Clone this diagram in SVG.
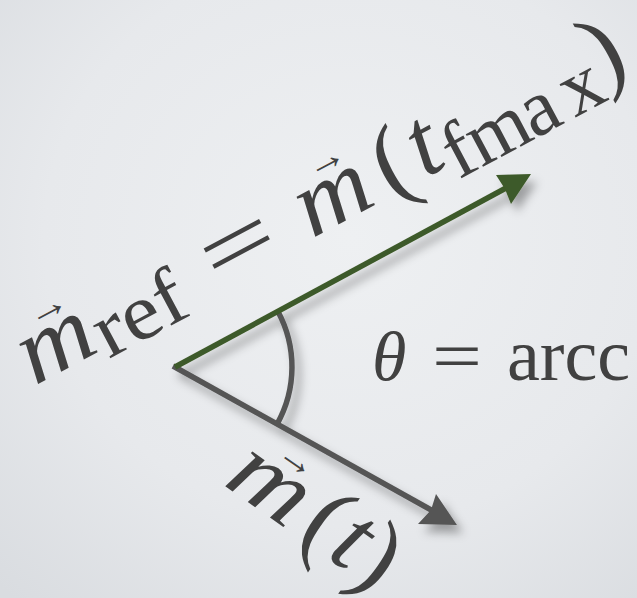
<svg xmlns="http://www.w3.org/2000/svg" width="637" height="598" viewBox="0 0 637 598">
<defs>
<radialGradient id="bg" cx="0.55" cy="0.4" r="0.8">
<stop offset="0" stop-color="#eef0f2"/>
<stop offset="0.6" stop-color="#e7e9ec"/>
<stop offset="1" stop-color="#d9dce0"/>
</radialGradient>
<filter id="sh" x="-20%" y="-20%" width="140%" height="140%">
<feDropShadow dx="6" dy="8" stdDeviation="5" flood-color="#000" flood-opacity="0.33"/>
</filter>
<style>
text{font-family:'Liberation Serif','Times New Roman',serif;fill:#414141}
.i{font-style:italic}
.g{stroke:#3e5a29;stroke-width:5.5;fill:none}
.k{stroke:#555;stroke-width:5.5;fill:none}
</style>
</defs>
<rect width="637" height="598" fill="url(#bg)"/>
<g id="connectors" filter="url(#sh)">
<path class="k" d="M277.8,311.2 A117,117 0 0 1 277,424.3"/>
<line class="k" x1="173" y1="366" x2="433" y2="511"/>
<polygon points="457,525 436,494 431,510 418,524" fill="#555"/>
<line class="g" x1="175" y1="367" x2="506" y2="188"/>
<polygon points="531,174 496,175 505,189 511,204" fill="#3e5a29"/>
</g>
<g id="label-ref" transform="translate(40,383) rotate(-28)">
<text class="i" font-style="italic" x="-6" y="0" font-size="96" textLength="76" lengthAdjust="spacingAndGlyphs">m</text>
<text x="20" y="-51" font-size="40" textLength="43" lengthAdjust="spacingAndGlyphs">→</text>
<text x="72" y="11" font-size="80" textLength="96" lengthAdjust="spacingAndGlyphs">ref</text>
<text x="201" y="0" font-size="92" textLength="76" lengthAdjust="spacingAndGlyphs">=</text>
<text class="i" font-style="italic" x="308" y="0" font-size="96" textLength="76" lengthAdjust="spacingAndGlyphs">m</text>
<text x="336" y="-51" font-size="40" textLength="41" lengthAdjust="spacingAndGlyphs">→</text>
<text x="397" y="2" font-size="100">(</text>
<text class="i" font-style="italic" x="436" y="0" font-size="98">t</text>
<text font-size="80" y="17"><tspan x="465">f</tspan><tspan x="491">m</tspan><tspan x="551">a</tspan><tspan x="597">x</tspan></text>
<text x="636" y="2" font-size="100">)</text>
</g>
<g id="label-theta">
<text class="i" font-style="italic" x="372" y="380" font-size="70">θ</text>
<text x="432" y="380" font-size="70" textLength="50" lengthAdjust="spacingAndGlyphs">=</text>
<text x="507" y="380" font-size="74">arcc</text>
</g>
<g id="label-mt" transform="translate(222,484) rotate(35)">
<text class="i" font-style="italic" x="0" y="0" font-size="96" textLength="80" lengthAdjust="spacingAndGlyphs">m</text>
<text x="28" y="-51" font-size="40" textLength="40" lengthAdjust="spacingAndGlyphs">→</text>
<text x="91" y="2" font-size="100">(</text>
<text class="i" font-style="italic" x="126" y="0" font-size="98">t</text>
<text x="155" y="2" font-size="100">)</text>
</g>
</svg>
